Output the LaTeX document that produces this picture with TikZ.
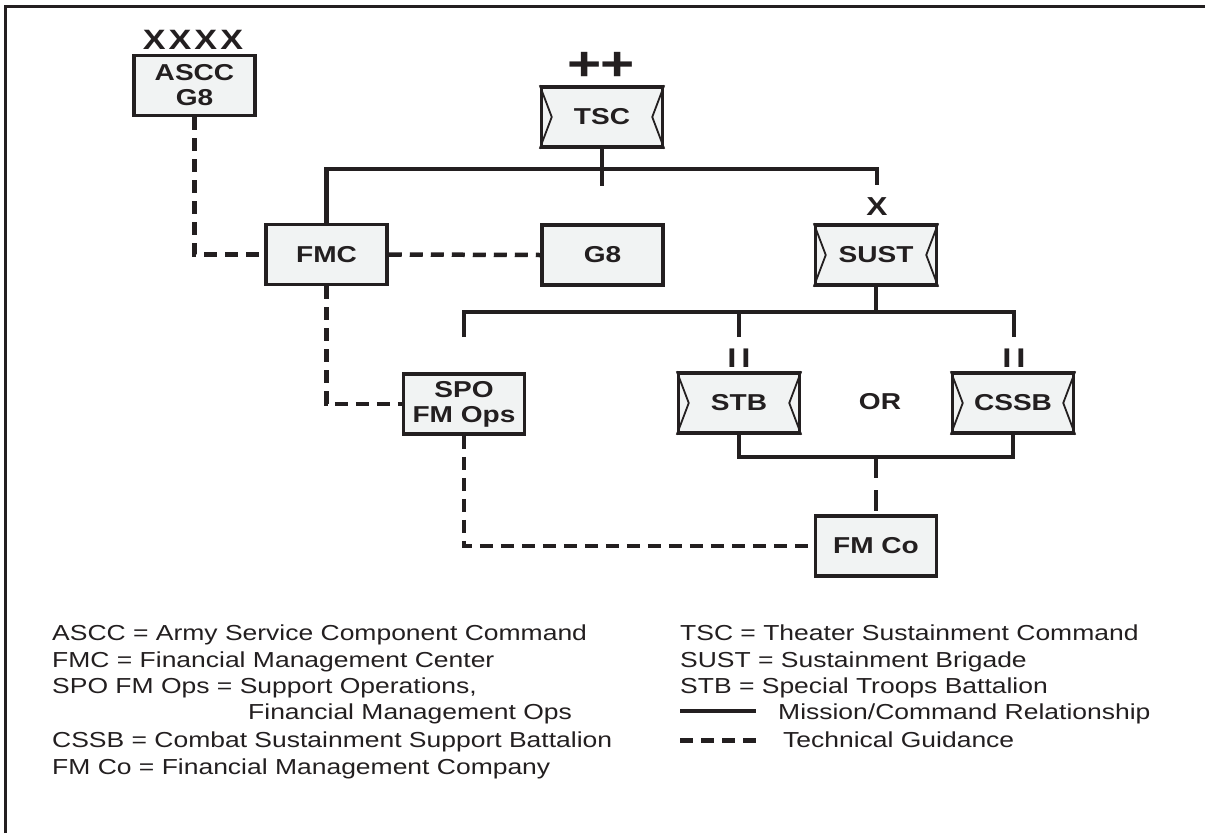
\documentclass[tikz,border=0pt]{standalone}
\usepackage{fontspec}
\setmainfont{Liberation Sans}[FakeStretch=1.22]
\usetikzlibrary{calc}
\definecolor{boxfill}{RGB}{241,243,243}
\definecolor{ink}{RGB}{35,31,32}
\tikzset{
  unit/.style={draw=ink, line width=3.5pt, fill=boxfill, minimum width=121pt, minimum height=60pt,
    inner sep=0pt, align=center, text=ink, font=\bfseries\fontsize{23}{25}\selectfont},
  chev/.style={draw=ink, line width=1.8pt},
  cmd/.style={draw=ink, line width=4.3pt},
  tech/.style={draw=ink, line width=4.5pt, dash pattern=on 13pt off 8pt},
  techlong/.style={draw=ink, line width=4.5pt, dash pattern=on 21pt off 12pt},
  echelon/.style={text=ink, inner sep=0pt, font=\bfseries\fontsize{28}{28}\selectfont},
  legend/.style={anchor=base west, inner sep=0pt, text=ink, font=\fontsize{21.7}{24}\selectfont},
}
\begin{document}
\begin{tikzpicture}[x=1pt, y=-1pt]
\useasboundingbox (0,0) rectangle (1205,833);
% frame
\draw[ink, line width=3pt] (5,833) -- (5,6) -- (1205,6);

% units
\node[unit] (ascc) at (194.5,85.5) {ASCC\\G8};
\node[unit] (tsc) at (602,117) {TSC};
\node[unit] (fmc) at (326.5,254.5) {FMC};
\node[unit] (g8) at (602.5,255) {G8};
\node[unit] (sust) at (876,255) {SUST};
\node[unit] (spo) at (464,404) {SPO\\FM Ops};
\node[unit] (stb) at (739,403) {STB};
\node[unit] (cssb) at (1013,403) {CSSB};
\node[unit] (fmco) at (876,546) {FM Co};
\node[text=ink, font=\bfseries\fontsize{23}{25}\selectfont] (or) at (880,402) {OR};

% chevrons
\foreach \n in {tsc,sust,stb,cssb}{
  \draw[chev] (\n.north west) -- ($(\n.west)+(12,0)$) -- (\n.south west);
  \draw[chev] (\n.north east) -- ($(\n.east)+(-12,0)$) -- (\n.south east);
}

% echelon marks
\node[echelon] (ex4) at (193,40) {X\hspace{3pt}X\hspace{3pt}X\hspace{3pt}X};
\node[echelon, font=\bfseries\fontsize{48}{48}\selectfont] (epp) at (601,66) {+\hspace{-1pt}+};
\node[echelon, font=\bfseries\fontsize{26}{26}\selectfont] (ex1) at (877,207) {X};
\node[echelon, font=\bfseries\fontsize{27}{27}\selectfont] (eii1) at (739,358) {I\hspace{5pt}I};
\node[echelon, font=\bfseries\fontsize{27}{27}\selectfont] (eii2) at (1014,358) {I\hspace{5pt}I};

% command lines
\coordinate (tbus) at (602,169);
\coordinate (tstub) at (602,186);
\coordinate (sstub) at (877,185);
\draw[cmd] (tsc.south) -- (tstub);
\draw[cmd] (fmc.north) -- (fmc.north |- tbus) -- (sstub |- tbus) -- (sstub);

\coordinate (sbus) at (876,312);
\coordinate (spostub) at (464,337);
\coordinate (stbstub) at (739,337);
\coordinate (cssbstub) at (1014,337);
\draw[cmd] (sust.south) -- (sbus);
\draw[cmd] (spostub) -- (spostub |- sbus) -- (cssbstub |- sbus) -- (cssbstub);
\draw[cmd] (stbstub) -- (stbstub |- sbus);

\coordinate (bbus) at (876,457);
\draw[cmd] (stb.south) -- (stb.south |- bbus) -- (cssb.south |- bbus) -- (cssb.south);
\draw[techlong] (bbus) -- (fmco.north);

% technical guidance
\draw[tech] (ascc.south) -- (ascc.south |- fmc.west) -- (fmc.west);
\draw[tech] (fmc.east) -- (g8.west);
\draw[tech] (fmc.south) -- (fmc.south |- spo.west) -- (spo.west);
\draw[tech] (spo.south) -- (spo.south |- fmco.west) -- (fmco.west);

% legend
\node[legend] (l1) at (52,640) {ASCC = Army Service Component Command};
\node[legend] (l2) at (52,667) {FMC = Financial Management Center};
\node[legend] (l3) at (52,693) {SPO FM Ops = Support Operations,};
\node[legend] (l4) at (248,719) {Financial Management Ops};
\node[legend] (l5) at (52,747) {CSSB = Combat Sustainment Support Battalion};
\node[legend] (l6) at (52,774) {FM Co = Financial Management Company};
\node[legend] (r1) at (680,640) {TSC = Theater Sustainment Command};
\node[legend] (r2) at (680,667) {SUST = Sustainment Brigade};
\node[legend] (r3) at (680,693) {STB = Special Troops Battalion};
\node[legend] (r4) at (778,719) {Mission/Command Relationship};
\node[legend] (r5) at (783,747) {Technical Guidance};
\coordinate (ls1) at (680,711);
\coordinate (ls2) at (756,711);
\coordinate (ld1) at (680,740);
\coordinate (ld2) at (756,740);
\draw[cmd, line width=4.5pt] (ls1) -- (ls2);
\draw[tech, line width=5pt, dash pattern=on 13pt off 8pt] (ld1) -- (ld2);
\end{tikzpicture}
\end{document}
